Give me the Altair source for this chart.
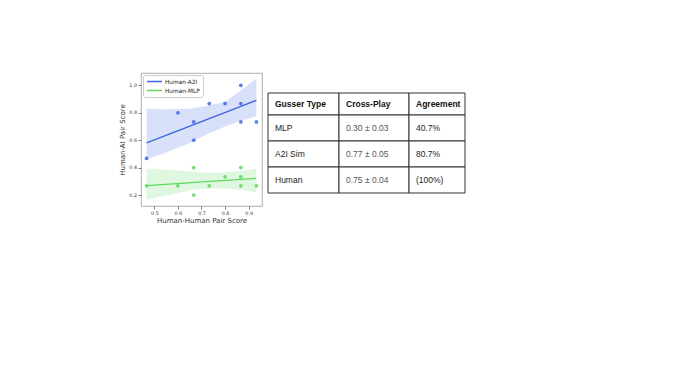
import altair as alt
import pandas as pd

# ---------------- data ----------------
series_names = ["Human-A2I", "Human-MLP"]
human_pair = [0.467, 0.6, 0.667, 0.667, 0.733, 0.8, 0.867, 0.867, 0.867, 0.933]
a2i_score = [0.467, 0.8, 0.733, 0.6, 0.867, 0.867, 1.0, 0.867, 0.733, 0.733]
mlp_score = [0.267, 0.267, 0.4, 0.2, 0.267, 0.333, 0.4, 0.333, 0.267, 0.267]

# confidence bands
a2i_band_x = [0.467, 0.55, 0.65, 0.72, 0.8, 0.865, 0.933]
a2i_band_lo = [0.46, 0.51, 0.58, 0.64, 0.70, 0.74, 0.775]
a2i_band_hi = [0.83, 0.825, 0.83, 0.85, 0.88, 0.96, 1.05]
mlp_band_x = [0.467, 0.58, 0.665, 0.76, 0.865, 0.933]
mlp_band_lo = [0.165, 0.208, 0.238, 0.249, 0.239, 0.22]
mlp_band_hi = [0.393, 0.382, 0.37, 0.36, 0.375, 0.393]

x_ticks = [0.5, 0.6, 0.7, 0.8, 0.9]
y_ticks = [0.2, 0.4, 0.6, 0.8, 1.0]

header = ["Gusser Type", "Cross-Play", "Agreement"]
gusser = ["MLP", "A2I Sim", "Human"]
cross_play = ["0.30 ± 0.03", "0.77 ± 0.05", "0.75 ± 0.04"]
agreement = ["40.7%", "80.7%", "(100%)"]

# ---------------- layout / style ----------------
BLUE = "#3f66e3"
GREEN = "#5fd85f"
COL_W = [71, 70, 56]
ROW_H = [22, 26, 26, 26]
TABLE_TOP = 20
PLOT_W, PLOT_H = 121, 133
TABLE_W = sum(COL_W)

pts = pd.DataFrame({
    "x": human_pair * 2,
    "y": a2i_score + mlp_score,
    "series": [series_names[0]] * len(a2i_score) + [series_names[1]] * len(mlp_score),
})
band = pd.DataFrame({
    "x": a2i_band_x + mlp_band_x,
    "lo": a2i_band_lo + mlp_band_lo,
    "hi": a2i_band_hi + mlp_band_hi,
    "series": [series_names[0]] * len(a2i_band_x) + [series_names[1]] * len(mlp_band_x),
})

xsc = alt.Scale(domain=[0.4433, 0.9567], nice=False, zero=False)
ysc = alt.Scale(domain=[0.12, 1.09], nice=False, zero=False)
csc = alt.Scale(domain=series_names, range=[BLUE, GREEN])

axis_common = dict(labelFontSize=4.8, labelFont="DejaVu Sans", labelColor="#333",
                   titleFontSize=7, titleFont="DejaVu Sans", titleColor="#333",
                   titleFontWeight="normal", tickSize=3, tickColor="#333", tickWidth=0.6,
                   domain=False, grid=False, format=".1f", labelPadding=1.5,
                   labelOverlap=False)
xaxis = alt.Axis(values=x_ticks, title="Human-Human Pair Score", titlePadding=1, **axis_common)
yaxis = alt.Axis(values=y_ticks, title="Human-AI Pair Score", titlePadding=3, **axis_common)

legend = alt.Legend(
    title=None, orient="top-left", offset=2, symbolType="stroke", symbolSize=225,
    symbolStrokeWidth=1.3, labelFontSize=5.8, labelFont="DejaVu Sans", labelColor="#222",
    labelOffset=2, rowPadding=2, padding=3, strokeColor="#ccc",
    fillColor="rgba(255,255,255,0.8)", cornerRadius=2, clipHeight=7,
    symbolOpacity=1)

band_layer = alt.Chart(band).mark_area(opacity=0.2).encode(
    x=alt.X("x:Q", scale=xsc, axis=xaxis),
    y=alt.Y("lo:Q", scale=ysc, axis=yaxis),
    y2="hi:Q",
    color=alt.Color("series:N", scale=csc, legend=legend),
    detail="series:N",
)
pt_layer = alt.Chart(pts).mark_circle(size=14, opacity=0.85).encode(
    x=alt.X("x:Q", scale=xsc, axis=xaxis),
    y=alt.Y("y:Q", scale=ysc, axis=yaxis),
    color=alt.Color("series:N", scale=csc, legend=legend),
)
line_layer = alt.Chart(pts).transform_regression(
    "x", "y", groupby=["series"]
).mark_line(strokeWidth=1.3).encode(
    x=alt.X("x:Q", scale=xsc, axis=xaxis),
    y=alt.Y("y:Q", scale=ysc, axis=yaxis),
    color=alt.Color("series:N", scale=csc, legend=legend),
)
scatter = alt.layer(band_layer, pt_layer, line_layer).properties(
    width=PLOT_W, height=PLOT_H, view=alt.ViewBackground(stroke="#999", strokeWidth=0.8))

# ---------------- table ----------------
rows = [header] + [[g, c, a] for g, c, a in zip(gusser, cross_play, agreement)]
col_left = [sum(COL_W[:i]) for i in range(len(COL_W))]
row_top = [TABLE_TOP + sum(ROW_H[:i]) for i in range(len(ROW_H))]
cells = []
for r, row in enumerate(rows):
    for c, txt in enumerate(row):
        cells.append({"text": txt, "col": header[c], "header": r == 0,
                      "x": col_left[c], "x2": col_left[c] + COL_W[c],
                      "y": row_top[r], "y2": row_top[r] + ROW_H[r],
                      "yc": row_top[r] + ROW_H[r] / 2})
cells = pd.DataFrame(cells)
txsc = alt.Scale(domain=[0, TABLE_W], nice=False, zero=False)
tysc = alt.Scale(domain=[0, PLOT_H], nice=False, zero=False, reverse=True)

grid = alt.Chart(cells).mark_rect(fill="white", stroke="#333", strokeWidth=1).encode(
    x=alt.X("x:Q", scale=txsc, axis=None), x2="x2:Q",
    y=alt.Y("y:Q", scale=tysc, axis=None), y2="y2:Q",
)
head_txt = alt.Chart(cells).transform_filter(alt.datum.header).mark_text(
    align="left", baseline="middle", dx=7, font="Liberation Sans", fontSize=8.5,
    fontWeight="bold", color="#111").encode(
    x=alt.X("x:Q", scale=txsc, axis=None), y=alt.Y("yc:Q", scale=tysc, axis=None), text="text:N")
body_txt = alt.Chart(cells).transform_filter(~alt.datum.header).mark_text(
    align="left", baseline="middle", dx=7, font="Liberation Sans", fontSize=8.5).encode(
    x=alt.X("x:Q", scale=txsc, axis=None), y=alt.Y("yc:Q", scale=tysc, axis=None), text="text:N",
    color=alt.condition(alt.datum.col == "Cross-Play", alt.value("#555"), alt.value("#222")))
table = alt.layer(grid, head_txt, body_txt).properties(
    width=TABLE_W, height=PLOT_H, view=alt.ViewBackground(stroke="transparent"))

chart = alt.hconcat(scatter, table, spacing=4).properties(
    padding={"left": 110, "top": 64, "right": 0, "bottom": 0}
).configure(background="white").configure_axis(labelOverlap=False)

chart.save("out.html", embed_options={"renderer": "svg", "actions": False})
